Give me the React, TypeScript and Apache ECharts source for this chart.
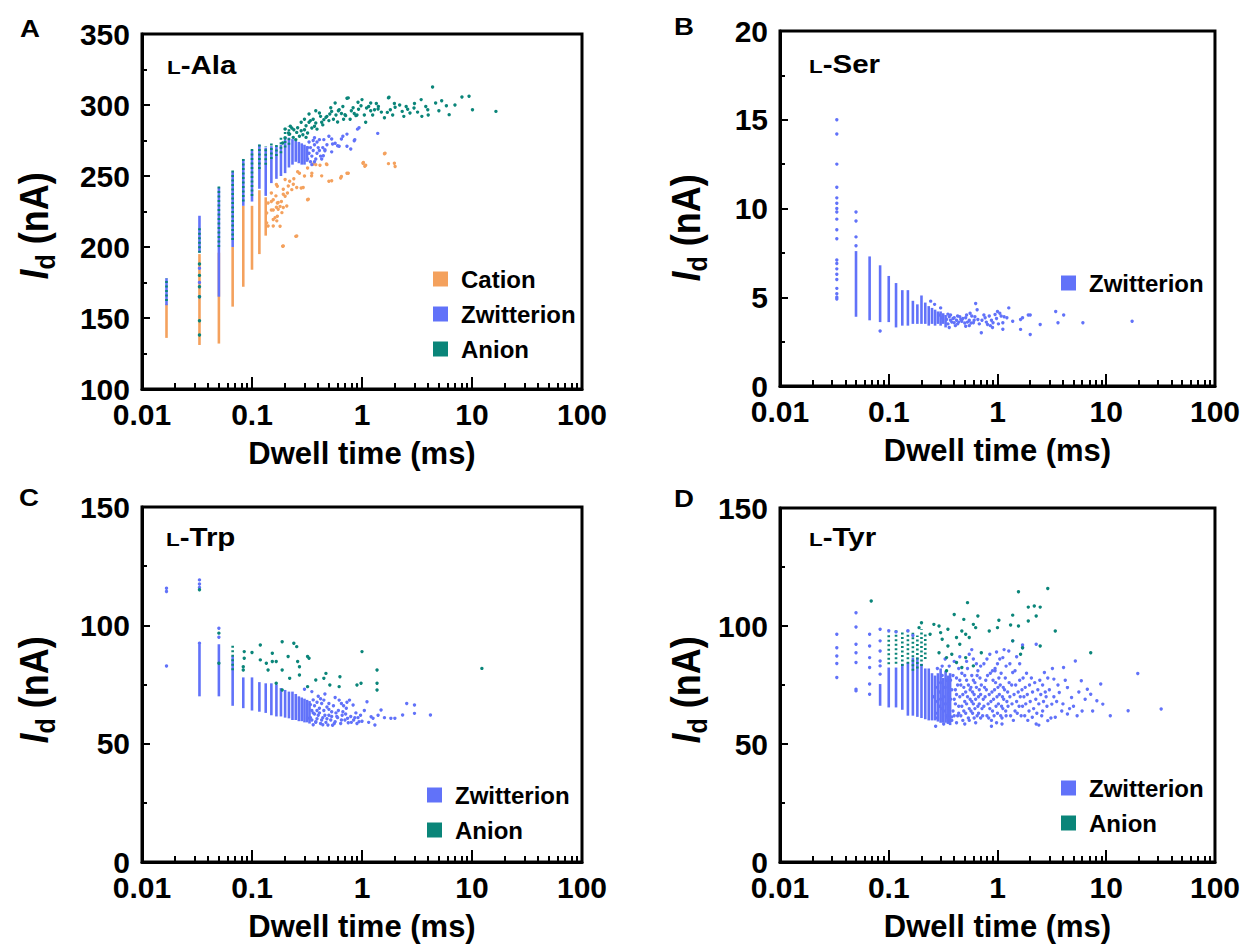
import React, { useEffect, useRef } from 'react';
import * as echarts from 'echarts';

type Col = [number, number, number];
type Pt = [number, number];

const FONT = "'Liberation Sans', Arial, Helvetica, sans-serif";
const C_CATION = '#F4A15D';
const C_ZWIT = '#6172F9';
const C_ANION = '#0A8579';

// axis ticks
const X_MINOR_TICKS = [
  0.02, 0.03, 0.04, 0.05, 0.06, 0.07, 0.08, 0.09,
  0.2, 0.3, 0.4, 0.5, 0.6, 0.7, 0.8, 0.9,
  2, 3, 4, 5, 6, 7, 8, 9,
  20, 30, 40, 50, 60, 70, 80, 90,
];
const PANEL_LETTERS = ['A', 'B', 'C', 'D'];
const PANEL_TITLES = ['-Ala', '-Ser', '-Trp', '-Tyr'];
const Y_MIN = [100, 0, 0, 0];
const Y_MAX = [350, 20, 150, 150];
const Y_STEP = [50, 5, 50, 50];
const X_NAME = 'Dwell time (ms)';

// ---------- Panel A : L-Ala ----------
const alaCationCols: Col[] = [
  [0.0167, 136, 160], [0.0333, 131, 195], [0.05, 132, 196], [0.0667, 158, 200],
  [0.0833, 172, 229], [0.1, 184, 229], [0.1167, 195, 240], [0.1333, 208, 235],
];
const alaCationPts: Pt[] = [
  [1.6, 265.7], [1.97, 259], [1.74, 258.7], [1.02, 259], [1.06, 256.8], [0.73, 252], [0.64, 248.6],
  [0.5, 246.3], [0.48, 258], [0.38, 258], [0.32, 255.6], [0.35, 252], [0.32, 233.3], [0.27, 252],
  [0.28, 241.6], [0.23, 240.4], [0.2, 235.7], [0.25, 207.5], [0.19, 200.5], [0.17, 221.6], [0.18, 214.6],
  [0.156, 226], [0.14, 231], [0.2, 247.5], [0.22, 246.3], [0.17, 242.8], [0.156, 233.3], [0.17, 231],
  [0.18, 228.6], [0.156, 219.3], [0.1925, 240.7], [0.2138, 243], [0.2374, 244.2], [0.255, 241.9],
  [0.292, 241.9], [0.1925, 237.2], [0.173, 231.3], [0.173, 226.6], [0.1925, 227.8], [0.207, 228.9],
  [0.187, 224.2], [0.162, 220.7], [0.168, 218.4], [0.156, 214.8], [0.325, 233.6], [0.255, 207.8],
  [0.1925, 200.7], [0.348, 250.1], [0.43, 250.1], [0.53, 246.6], [0.65, 249.6], [0.75, 252],
  [0.475, 258.4], [0.415, 257.6], [0.36, 258.4], [1.03, 259.5], [1.08, 257.6], [1.62, 266], [2.0, 256.7],
  [0.136, 224], [0.136, 217], [0.14, 214.8], [0.15, 232], [0.165, 236], [0.185, 232], [0.21, 238],
  [0.24, 248], [0.26, 253], [0.3, 250], [0.15, 238], [0.15, 226], [0.1667, 244], [0.1667, 228],
];
const alaZwitCols: Col[] = [
  [0.0167, 159, 178], [0.0333, 196, 222], [0.05, 165, 242], [0.0667, 200, 253], [0.0833, 229, 262],
  [0.1, 232, 268], [0.1167, 241, 272], [0.1333, 236, 270], [0.15, 245, 271], [0.1667, 248, 271],
  [0.1833, 250, 272], [0.2, 252, 276], [0.2167, 256, 277], [0.2333, 258, 276], [0.25, 260, 275],
  [0.2667, 259, 274], [0.2833, 258, 273], [0.3, 258, 272], [0.3167, 260, 271],
];
const alaZwitPts: Pt[] = [
  [0.0333, 185], [0.0333, 175], [0.0333, 165], [0.32, 262], [0.33, 266], [0.34, 270], [0.35, 264],
  [0.36, 268], [0.37, 272], [0.38, 262], [0.39, 266], [0.4, 270], [0.42, 264], [0.34, 260], [0.36, 275],
  [0.41, 268], [0.44, 270], [0.32, 270], [0.33, 274], [0.35, 258], [0.37, 260], [0.39, 274], [0.43, 262],
  [0.45, 275.6], [0.57, 273], [0.67, 278], [0.73, 271], [0.86, 275.6], [0.94, 284], [1.39, 280],
  [0.53, 267], [0.62, 271], [0.46, 268.5], [0.41, 275.6], [0.37, 277], [0.53, 276], [0.65, 276],
  [0.73, 279.5], [0.85, 274.8], [0.79, 269], [0.91, 283], [0.6, 271.3], [0.445, 264.2], [0.46, 267.8],
  [0.54, 272.5], [0.5, 278], [0.48, 272],
];
const alaAnionCols: Col[] = [
  [0.0167, 162, 178], [0.0333, 196, 215], [0.05, 200, 243], [0.0667, 205, 255], [0.0833, 232, 263],
  [0.1, 236, 269], [0.1167, 255, 274], [0.1333, 258, 271], [0.15, 262, 274], [0.1667, 264, 272],
  [0.1833, 266, 278], [0.2, 270, 284], [0.2167, 272, 285],
];
const alaAnionPts: Pt[] = [
  [0.0333, 138], [0.0333, 148], [0.0333, 165], [0.0333, 172], [0.0333, 180], [0.0333, 188],
  [4.38, 312.7], [16.5, 295.5], [8.1, 305.6], [9.4, 306.1], [10.1, 296.7], [6.2, 293.2], [5.85, 299.5],
  [4.67, 301.4], [3.96, 296.7], [3.5, 292], [3.45, 303.8], [2.97, 297.9], [2.73, 294.4], [2.52, 299],
  [2.32, 295.5], [1.74, 305], [1.81, 296.7], [1.97, 301], [1.41, 299], [1.3, 296.7], [1.2, 301.4],
  [1.1, 297.9], [1.0, 303.8], [0.9, 293], [0.73, 304.7], [0.7, 293.2], [0.62, 296.7], [0.57, 301.4],
  [0.53, 295.5], [0.48, 292], [0.45, 289.7], [0.41, 294.4], [0.38, 287.3], [0.35, 283.8], [0.32, 280.3],
  [0.3, 282.6], [0.27, 278], [0.25, 275.6], [0.23, 283.8], [0.215, 280.3], [0.2, 276.8], [0.223, 285],
  [0.24, 282.6], [0.19, 273.3], [0.2, 283], [0.22, 279.5], [0.255, 280.7], [0.28, 281.9], [0.31, 285.4],
  [0.33, 287.8], [0.36, 290], [0.39, 283], [0.43, 287.8], [0.47, 291.3], [0.51, 293.6], [0.55, 290],
  [0.61, 296], [0.71, 292.5], [0.75, 305], [0.8, 296], [0.88, 292.5], [0.98, 299.5], [1.08, 287.8],
  [1.2, 296], [1.4, 297.2], [1.7, 294.8], [1.76, 305.4], [2.0, 298.4], [0.237, 277.2], [0.31, 277.2],
  [0.28, 287.8], [0.33, 293.6], [0.38, 296], [0.3, 290], [0.26, 284], [0.29, 279], [0.34, 289],
  [0.37, 285], [0.42, 292], [0.44, 286], [0.5, 289], [0.52, 298], [0.58, 293], [0.6, 288], [0.65, 294],
  [0.67, 299], [0.78, 290], [0.83, 298], [0.85, 294], [0.93, 297], [1.05, 293], [1.15, 299], [1.25, 293],
  [1.35, 301], [1.5, 295], [1.6, 291], [1.9, 293], [2.2, 300], [2.4, 292], [2.6, 297], [3.0, 301],
  [3.2, 295], [3.8, 299], [4.0, 293], [5.0, 296], [5.3, 303], [7.0, 300], [0.92, 302], [0.68, 290],
];

// ---------- Panel B : L-Ser ----------
const serZwitCols: Col[] = [
  [0.05, 3.9, 7.6], [0.0667, 3.7, 7.3], [0.0833, 3.6, 6.8], [0.1, 3.6, 6.2], [0.1167, 3.3, 5.8],
  [0.1333, 3.4, 5.4], [0.15, 3.4, 5.4], [0.1667, 3.5, 4.8], [0.1833, 3.5, 4.6], [0.2, 3.5, 5.1],
  [0.2167, 3.5, 4.7], [0.2333, 3.4, 4.5], [0.25, 3.5, 4.4], [0.2667, 3.4, 4.3], [0.2833, 3.5, 4.2],
  [0.3, 3.4, 4.2], [0.3167, 3.5, 4.1], [0.3333, 3.3, 4.0],
];
const serZwitPts: Pt[] = [
  [0.0333, 15.0], [0.0333, 14.2], [0.0333, 12.5], [0.0333, 11.2], [0.0333, 10.6], [0.0333, 10.3],
  [0.0333, 10.0], [0.0333, 9.8], [0.0333, 9.4], [0.0333, 8.8], [0.0333, 8.3], [0.0333, 7.1],
  [0.0333, 6.9], [0.0333, 6.6], [0.0333, 6.3], [0.0333, 6.0], [0.0333, 5.5], [0.0333, 5.2],
  [0.0333, 5.0], [0.0333, 4.9], [0.05, 9.8], [0.05, 9.3], [0.05, 8.4], [0.05, 7.9], [0.0833, 3.1],
  [0.243, 4.78], [0.264, 4.6], [0.3, 4.4], [0.63, 4.65], [1.27, 4.4], [2.0, 4.0], [3.43, 4.2],
  [4.06, 4.0], [6.1, 3.56], [17.3, 3.65], [3.6, 3.56], [2.47, 3.47], [2.0, 2.9], [1.63, 3.19],
  [0.71, 3.0], [1.63, 3.75], [1.92, 4.0], [1.0, 4.2], [0.84, 3.94], [1.08, 3.94], [1.12, 3.56],
  [0.91, 3.56], [0.77, 3.84], [0.66, 3.75], [0.58, 3.94], [0.51, 3.84], [0.47, 3.65], [0.51, 3.37],
  [0.4, 3.56], [0.37, 4.0], [0.34, 3.75], [0.31, 3.84], [0.29, 4.0], [0.43, 3.94], [0.6, 3.56],
  [0.81, 3.47], [1.22, 3.84], [1.38, 3.65], [1.7, 3.84], [0.95, 4.03], [0.35, 3.5], [0.36, 3.9],
  [0.38, 3.6], [0.39, 3.8], [0.41, 3.4], [0.42, 3.7], [0.44, 3.6], [0.45, 3.9], [0.48, 3.8],
  [0.53, 3.6], [0.55, 3.7], [0.56, 4.1], [0.62, 3.9], [0.68, 3.5], [0.72, 3.7], [0.75, 4.0],
  [0.79, 3.6], [0.88, 3.7], [0.98, 3.8], [1.02, 3.5], [1.05, 4.1], [1.15, 3.9], [0.36, 3.3],
  [0.55, 3.4], [0.65, 4.3], [0.9, 3.3], [1.12, 3.2], [0.86, 3.4], [0.35, 4.05], [0.37, 3.7],
  [0.4, 3.85], [0.43, 3.5], [0.46, 3.75], [0.5, 3.55], [0.52, 4.0], [0.57, 3.55], [0.61, 3.7],
];

// ---------- Panel C : L-Trp ----------
const trpZwitCols: Col[] = [
  [0.0333, 70, 92], [0.05, 70, 92], [0.0667, 66, 87], [0.0833, 65, 78], [0.1, 64, 78],
  [0.1167, 63.5, 76], [0.1333, 63, 75.5], [0.15, 62, 75.5], [0.1667, 61.5, 75], [0.1833, 61.5, 73.5],
  [0.2, 61, 72.7], [0.2167, 60.7, 72], [0.2333, 60, 72], [0.25, 60, 71], [0.2667, 59.5, 70],
  [0.2833, 59.5, 69.5], [0.3, 59, 69], [0.3167, 59, 68.5], [0.3333, 58.5, 68],
];
const trpZwitPts: Pt[] = [
  [0.0167, 115.7], [0.0167, 114.3], [0.0167, 82.8], [0.0333, 119.2], [0.0333, 117.5], [0.0333, 116],
  [0.0333, 92.4], [0.05, 98.8], [0.05, 95], [0.35, 60], [0.36, 63], [0.37, 66], [0.38, 59], [0.4, 62],
  [0.41, 65], [0.42, 58.5], [0.44, 61], [0.45, 64], [0.45, 68.4], [0.47, 59], [0.5, 62], [0.52, 60],
  [0.55, 66], [0.57, 59.3], [0.58, 63], [0.6, 61], [0.62, 68.4], [0.64, 58.5], [0.66, 62], [0.7, 60],
  [0.72, 65], [0.74, 60.7], [0.77, 68.4], [0.8, 59], [0.83, 66.3], [0.86, 61], [0.9, 58.5], [0.94, 59.3],
  [0.97, 62], [1.11, 67.7], [1.21, 61.4], [1.26, 60.7], [1.31, 57.9], [1.49, 64.2], [1.83, 60.7],
  [1.99, 60.7], [2.34, 62.1], [2.55, 67], [3.0, 66.3], [3.0, 62.8], [4.19, 62.1], [0.49, 57.9],
  [0.38, 59.3], [0.32, 60.7], [0.39, 64], [0.43, 67], [0.48, 65.5], [0.53, 63.5], [0.68, 66], [0.88, 63],
  [1.05, 64], [1.15, 59], [1.4, 62], [1.6, 61], [0.34, 66.5], [0.36, 68.5], [0.4, 70], [0.46, 71],
  [0.35, 72], [0.3, 73], [0.34, 61], [0.35, 64], [0.37, 62.5], [0.39, 60.5], [0.41, 63], [0.43, 60],
  [0.46, 62], [0.48, 60.5], [0.5, 64.5], [0.53, 61.5], [0.56, 58.5], [0.59, 61.5], [0.61, 64],
  [0.65, 60], [0.67, 63.5], [0.71, 62.5], [0.75, 58.8], [0.79, 61.5], [0.84, 60], [0.92, 61], [1.0, 59.5],
  [0.36, 58], [0.44, 58], [0.54, 57.8], [0.39, 67.5], [0.42, 69], [0.5, 67], [0.57, 69.5], [0.65, 67],
  [0.73, 67.5],
];
const trpAnionCols: Col[] = [[0.0667, 81, 92]];
const trpAnionPts: Pt[] = [
  [0.188, 93.1], [0.24, 92.4], [0.255, 91], [0.119, 91.7], [0.153, 88.2], [0.166, 84.7], [0.213, 86.8],
  [0.32, 86.8], [0.33, 86.1], [0.1, 88.5], [0.135, 84], [0.153, 84.7], [0.26, 84.7], [0.119, 85.4],
  [0.188, 81.1], [0.27, 82.5], [0.27, 79], [0.47, 79.7], [0.45, 77.6], [0.38, 76.9], [0.63, 78.3],
  [0.62, 74.1], [0.51, 74.8], [0.9, 74.8], [1.0, 88.9], [1.37, 81.1], [1.37, 75.5], [1.37, 72.7],
  [0.98, 75.5], [12.3, 81.8], [0.14, 81.1], [0.166, 75.5], [0.22, 77.6], [0.188, 72.7], [0.32, 74.1],
  [0.085, 88.9], [0.085, 86.1], [0.0833, 82.5], [0.0833, 81.1], [0.0333, 115], [0.05, 96.7], [0.05, 84],
];

// ---------- Panel D : L-Tyr ----------
const tyrZwitCols: Col[] = [
  [0.0833, 66.2, 75.4], [0.1, 65.5, 82.4], [0.1167, 65.5, 82.4], [0.1333, 64.5, 84], [0.15, 62, 84.5],
  [0.1667, 62, 86.6], [0.1833, 61.5, 86.6], [0.2, 61, 84], [0.2167, 60.5, 82], [0.2333, 60, 82],
  [0.25, 60, 80], [0.2667, 60, 79], [0.2833, 59.5, 80], [0.3, 59, 82], [0.3167, 59, 78],
  [0.3333, 59, 81], [0.35, 58.5, 79], [0.3667, 58, 80],
];
const tyrZwitPts: Pt[] = [
  [0.0333, 96.5], [0.0333, 90.8], [0.0333, 87.3], [0.0333, 84.1], [0.0333, 78.2],
  [0.05, 105.6], [0.05, 99.6], [0.05, 92.3], [0.05, 88.7], [0.05, 84.5], [0.05, 73.2], [0.05, 72.5],
  [0.0667, 96.5], [0.0667, 91.5], [0.0667, 86.6], [0.0667, 82.4], [0.0667, 75.4], [0.0667, 71.1],
  [0.0833, 98.6], [0.0833, 93.7], [0.0833, 89.4], [0.0833, 85.2], [0.0833, 83.1], [0.0833, 79.6],
  [0.1, 98], [0.1167, 97.5], [0.15, 98], [0.1667, 96],
  [0.27, 63], [0.28, 68], [0.29, 72], [0.3, 76], [0.31, 65], [0.32, 70], [0.33, 74], [0.34, 62],
  [0.35, 67], [0.36, 71], [0.37, 77], [0.38, 60], [0.39, 64], [0.4, 69], [0.27, 57.5], [0.32, 58.5],
  [0.38, 61.5], [0.36, 83], [0.4, 85], [0.33, 86],
  [0.41, 73], [0.42, 78], [0.43, 62], [0.44, 66], [0.45, 70], [0.46, 75], [0.47, 80], [0.48, 60],
  [0.49, 64], [0.5, 68], [0.51, 72], [0.52, 77], [0.53, 82], [0.54, 61], [0.55, 65], [0.56, 69],
  [0.57, 74], [0.58, 79], [0.59, 63], [0.6, 67], [0.61, 71], [0.62, 76], [0.63, 59], [0.64, 84],
  [0.65, 62], [0.66, 66], [0.67, 70], [0.68, 73], [0.69, 78], [0.7, 61], [0.45, 87], [0.55, 88],
  [0.6, 86], [0.5, 58.5], [0.42, 59], [0.66, 81],
  [0.72, 65], [0.74, 69], [0.76, 74], [0.78, 77], [0.8, 62], [0.82, 67], [0.84, 71], [0.86, 80],
  [0.88, 60], [0.9, 64], [0.92, 69], [0.94, 73], [0.96, 76], [0.98, 59], [1.0, 63], [1.02, 67],
  [1.04, 71], [1.06, 75], [1.08, 80], [1.1, 61], [1.12, 65], [1.14, 69], [1.16, 73], [1.18, 78],
  [1.2, 62], [0.75, 84], [0.85, 88], [0.95, 82], [1.05, 86], [1.15, 90], [0.88, 57.5], [1.1, 58.5],
  [1.25, 66], [1.3, 70], [1.35, 75], [1.4, 60], [1.45, 64], [1.5, 68], [1.55, 72], [1.6, 77],
  [1.65, 62], [1.7, 66], [1.75, 70], [1.8, 74], [1.85, 80], [1.9, 60], [1.95, 64], [2.0, 68],
  [2.1, 72], [2.2, 76], [2.3, 63], [2.4, 67], [2.5, 71], [2.27, 58.5], [2.4, 58], [2.09, 61.3],
  [1.3, 84], [1.5, 87], [1.7, 92], [2.27, 92.3], [1.38, 80.3], [1.27, 89.4], [1.12, 86.6], [0.95, 81],
  [1.38, 93.7], [1.7, 90.8],
  [2.6, 75], [2.7, 80.3], [2.9, 59.9], [3.16, 66.9], [3.3, 77.5], [3.4, 61.3], [3.7, 71.8], [4.05, 82.4],
  [4.4, 73.9], [4.4, 62.7], [4.8, 69.7], [5.2, 85.2], [5.4, 62], [5.9, 76.8], [6.4, 69], [6.7, 73.2],
  [7.2, 71.1], [8.2, 68.3], [8.9, 75.4], [9.3, 66.9], [10.9, 62], [15.9, 64.1], [19.5, 79.9], [32, 64.8],
  [2.8, 70], [3.0, 73], [3.5, 68], [3.9, 64], [2.6, 64], [2.9, 78], [3.2, 82], [4.2, 77], [5.0, 66],
  [5.6, 72], [6.0, 64], [7.5, 64],
  [0.26, 70], [0.27, 74], [0.28, 61], [0.29, 66], [0.3, 69], [0.31, 79], [0.32, 64], [0.33, 67],
  [0.34, 77], [0.35, 61], [0.36, 65], [0.37, 69], [0.38, 73], [0.39, 79], [0.4, 62], [0.41, 67],
  [0.42, 71], [0.43, 75], [0.44, 63], [0.45, 77], [0.46, 62], [0.47, 66], [0.48, 71], [0.49, 74],
  [0.5, 79], [0.51, 63], [0.52, 67], [0.53, 70], [0.54, 75], [0.55, 60], [0.56, 73], [0.57, 64],
  [0.58, 68], [0.59, 72], [0.6, 77], [0.61, 61], [0.62, 65], [0.63, 69], [0.64, 74], [0.65, 79],
  [0.67, 63], [0.68, 67], [0.7, 71], [0.71, 75], [0.73, 62], [0.75, 66], [0.77, 70], [0.79, 73],
  [0.81, 79], [0.83, 61], [0.85, 65], [0.87, 68], [0.89, 72], [0.91, 77], [0.93, 62], [0.97, 66],
  [0.99, 70], [1.01, 74], [1.03, 78], [1.07, 62], [1.09, 66], [1.11, 70], [1.13, 74], [1.19, 64],
  [1.22, 68], [1.24, 72], [1.28, 76], [1.32, 62], [1.36, 67], [1.42, 71], [1.47, 75], [1.52, 63],
  [1.58, 66], [1.62, 70], [1.68, 73], [1.72, 78], [1.78, 62], [1.82, 67], [1.88, 71], [1.97, 75],
  [2.05, 78], [2.15, 65], [2.25, 69], [2.35, 73], [2.45, 77], [2.55, 62], [2.65, 68], [2.75, 72],
  [2.85, 66], [3.1, 61], [3.3, 70], [3.6, 75], [4.0, 67], [4.6, 65], [0.44, 82], [0.52, 85], [0.7, 83],
  [0.8, 86], [0.9, 81], [1.0, 84], [1.2, 83], [1.45, 81], [1.6, 84], [0.58, 90], [0.98, 89], [0.31, 83],
  [0.28, 82],
];
const tyrAnionCols: Col[] = [
  [0.1, 83.8, 97.2], [0.1167, 84, 98.6], [0.1333, 83.1, 97.2], [0.15, 84, 98.6], [0.1667, 81, 97.2],
  [0.1833, 82, 96], [0.2, 83.1, 98.6], [0.2167, 86, 97],
];
const tyrAnionPts: Pt[] = [
  [0.069, 110.6], [0.53, 109.9], [1.56, 114.5], [2.9, 115.9], [1.92, 108], [2.18, 108.5], [2.47, 108],
  [2.27, 104.2], [1.92, 102.1], [1.38, 104.6], [1.32, 100.4], [1.0, 99.3], [1.03, 102.4], [1.56, 100],
  [3.4, 97.9], [7.2, 88.7], [2.47, 91.5], [0.84, 97.9], [0.66, 104.2], [0.6, 100.7], [0.49, 102.8],
  [0.4, 104.9], [0.42, 95.1], [0.51, 96.5], [0.45, 92.3], [0.35, 91.5], [0.31, 94.4], [0.26, 100.7],
  [0.24, 96.5], [0.3, 97.2], [0.35, 98.6], [0.47, 97.9], [0.55, 95.1], [0.63, 99.3], [0.71, 88.7],
  [0.34, 86.6], [0.29, 88.7], [0.38, 88], [0.42, 84.5], [0.47, 82.4], [0.6, 83.1], [0.34, 81],
  [0.51, 86.6], [1.38, 93.7], [1.7, 90.8], [1.63, 88], [0.19, 99.3], [0.2, 101.4], [0.29, 100],
];

// ---------- layout ----------
const GRIDS = [
  { left: 142, top: 34, width: 440, height: 355 },
  { left: 780, top: 31, width: 443, height: 355 },
  { left: 142, top: 507, width: 440, height: 355 },
  { left: 780, top: 508, width: 442, height: 354 },
];
const LEGEND_POS = [
  { left: 433, top: 267 },
  { left: 1061, top: 271 },
  { left: 427, top: 783 },
  { left: 1061, top: 776 },
];
const LETTER_POS = [[30, 28.5], [684, 26.5], [29, 497.5], [684, 498.5]];
const TITLE_POS = [[167, 65], [809, 64], [166, 537], [809, 537]];
const YNAME_POS = [[34, 226], [686, 228], [34, 690], [686, 690]];

const PANEL_SERIES: { name: string; color: string; cols?: Col[]; pts: Pt[]; dashed?: boolean }[][] = [
  [
    { name: 'Cation', color: C_CATION, cols: alaCationCols, pts: alaCationPts },
    { name: 'Zwitterion', color: C_ZWIT, cols: alaZwitCols, pts: alaZwitPts },
    { name: 'Anion', color: C_ANION, cols: alaAnionCols, pts: alaAnionPts, dashed: true },
  ],
  [{ name: 'Zwitterion', color: C_ZWIT, cols: serZwitCols, pts: serZwitPts }],
  [
    { name: 'Zwitterion', color: C_ZWIT, cols: trpZwitCols, pts: trpZwitPts },
    { name: 'Anion', color: C_ANION, cols: trpAnionCols, pts: trpAnionPts, dashed: true },
  ],
  [
    { name: 'Zwitterion', color: C_ZWIT, cols: tyrZwitCols, pts: tyrZwitPts },
    { name: 'Anion', color: C_ANION, cols: tyrAnionCols, pts: tyrAnionPts, dashed: true },
  ],
];

function buildOption() {
  const grid: any[] = [];
  const xAxis: any[] = [];
  const yAxis: any[] = [];
  const series: any[] = [];
  const legend: any[] = [];
  const graphic: any[] = [];

  GRIDS.forEach((g, i) => {
    grid.push({ ...g, show: true, borderColor: '#000', borderWidth: 3, backgroundColor: 'transparent' });
    xAxis.push({
      type: 'log', logBase: 10, min: 0.01, max: 100, gridIndex: i, position: 'bottom',
      axisLine: { lineStyle: { color: '#000', width: 3 } },
      axisTick: { inside: true, length: 12, lineStyle: { color: '#000', width: 2 } },
      axisLabel: { fontSize: 30, lineHeight: 24, fontWeight: 'bold', color: '#000', margin: 13, fontFamily: FONT },
      splitLine: { show: false },
      name: X_NAME, nameLocation: 'middle', nameGap: 49,
      nameTextStyle: { fontSize: 31, fontWeight: 'bold', color: '#000', fontFamily: FONT },
    });
    xAxis.push({
      type: 'log', logBase: 10, min: 0.01, max: 100, gridIndex: i, position: 'bottom',
      axisLine: { show: false },
      axisTick: { inside: true, length: 6, customValues: X_MINOR_TICKS, lineStyle: { color: '#000', width: 2 } },
      axisLabel: { show: false },
      splitLine: { show: false },
    });
    yAxis.push({
      type: 'value', min: Y_MIN[i], max: Y_MAX[i], interval: Y_STEP[i], gridIndex: i,
      axisLine: { show: true, lineStyle: { color: '#000', width: 3 } },
      axisTick: { show: true, inside: true, length: 8, lineStyle: { color: '#000', width: 2 } },
      minorTick: { show: true, splitNumber: 2, length: 5, lineStyle: { color: '#000', width: 2 } },
      axisLabel: { fontSize: 30, lineHeight: 22, fontWeight: 'bold', color: '#000', margin: 12, fontFamily: FONT },
      splitLine: { show: false },
      minorSplitLine: { show: false },
    });

    PANEL_SERIES[i].forEach((s) => {
      if (s.cols && s.cols.length) {
        const color = s.color;
        const dashed = !!s.dashed;
        series.push({
          type: 'custom', name: s.name, xAxisIndex: 2 * i, yAxisIndex: i,
          data: s.cols, encode: { x: 0, y: [1, 2] }, silent: true,
          itemStyle: { color },
          renderItem: (params: any, api: any) => {
            const p1 = api.coord([api.value(0), api.value(1)]);
            const p2 = api.coord([api.value(0), api.value(2)]);
            return {
              type: 'line',
              shape: { x1: p1[0], y1: p1[1], x2: p2[0], y2: p2[1] },
              style: { stroke: color, lineWidth: 2.6, lineDash: dashed ? [2, 2.5] : null },
            };
          },
        });
      }
      series.push({
        type: 'scatter', name: s.name, xAxisIndex: 2 * i, yAxisIndex: i,
        data: s.pts, symbol: 'circle', symbolSize: 3.4, silent: true,
        itemStyle: { color: s.color, opacity: 1 },
      });
    });

    legend.push({
      ...LEGEND_POS[i], orient: 'vertical', padding: 0, itemWidth: 15, itemHeight: 15, itemGap: 11,
      icon: 'rect', selectedMode: false,
      data: PANEL_SERIES[i].map((s) => ({ name: s.name, itemStyle: { color: s.color } })),
      textStyle: { fontSize: 24, fontWeight: 'bold', color: '#000', fontFamily: FONT, padding: [0, 0, 0, 8], lineHeight: 24 },
    });

    graphic.push({
      type: 'text', x: LETTER_POS[i][0], y: LETTER_POS[i][1], scaleX: 1.15,
      style: { text: PANEL_LETTERS[i], fontSize: 24, fontWeight: 'bold', fontFamily: FONT, fill: '#000', align: 'center', verticalAlign: 'middle' },
    });
    graphic.push({
      type: 'text', x: TITLE_POS[i][0], y: TITLE_POS[i][1], scaleX: 1.18,
      style: {
        text: '{s|L}{b|' + PANEL_TITLES[i] + '}', fill: '#000', align: 'left', verticalAlign: 'middle',
        rich: {
          s: { fontSize: 19, fontWeight: 'bold', fontFamily: FONT, fill: '#000', padding: [5, 0, 0, 0] },
          b: { fontSize: 25, fontWeight: 'bold', fontFamily: FONT, fill: '#000' },
        },
      },
    });
    graphic.push({
      type: 'text', x: YNAME_POS[i][0], y: YNAME_POS[i][1], rotation: Math.PI / 2, scaleY: 1.12,
      style: {
        text: '{i|I}{d|d}{n| (nA)}', fill: '#000', align: 'center', verticalAlign: 'middle',
        rich: {
          i: { fontSize: 36, fontWeight: 'bold', fontStyle: 'italic', fontFamily: FONT, fill: '#000' },
          d: { fontSize: 25, fontWeight: 'bold', fontFamily: FONT, fill: '#000', padding: [20, 0, 0, 0] },
          n: { fontSize: 36, fontWeight: 'bold', fontFamily: FONT, fill: '#000' },
        },
      },
    });
  });

  return {
    animation: false,
    backgroundColor: '#fff',
    textStyle: { fontFamily: FONT },
    grid, xAxis, yAxis, series, legend, graphic,
  };
}

export default function App() {
  const ref = useRef<HTMLDivElement>(null);
  useEffect(() => {
    if (!ref.current) return;
    const chart = echarts.init(ref.current, undefined, { renderer: 'svg' });
    chart.setOption(buildOption() as any);
    return () => chart.dispose();
  }, []);
  return <div ref={ref} style={{ position: 'absolute', left: 0, top: 0, width: 1243, height: 945 }} />;
}
